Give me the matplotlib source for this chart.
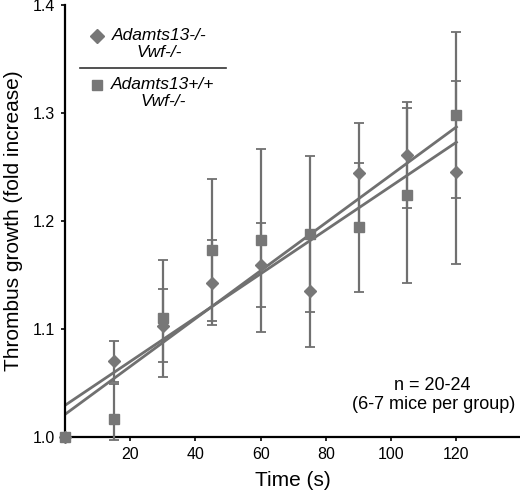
import numpy as np
import matplotlib
matplotlib.use("Agg")
import matplotlib.pyplot as plt
from matplotlib.lines import Line2D

plt.rcParams['font.family'] = ['Liberation Sans', 'DejaVu Sans']

# time points (s)
time_s = [0, 15, 30, 45, 60, 75, 90, 105, 120]

# Adamts13-/- Vwf-/-  (diamonds)
ko_mean = [1.000, 1.070, 1.103, 1.143, 1.159, 1.135, 1.244, 1.261, 1.245]
ko_err = [0.0, 0.019, 0.034, 0.039, 0.039, 0.052, 0.047, 0.049, 0.085]

# Adamts13+/+ Vwf-/-  (squares)
wt_mean = [1.000, 1.017, 1.110, 1.173, 1.182, 1.188, 1.194, 1.224, 1.298]
wt_err_lo = [0.0, 0.020, 0.054, 0.066, 0.085, 0.072, 0.060, 0.081, 0.077]
wt_err_hi = [0.0, 0.032, 0.054, 0.066, 0.085, 0.072, 0.060, 0.081, 0.077]

x_ticks = [20, 40, 60, 80, 100, 120]
y_ticks = [1.0, 1.1, 1.2, 1.3, 1.4]

gray = '#707070'
mgray = '#777777'

fig = plt.figure(figsize=(5.2, 4.93), dpi=100)
ax = fig.add_axes([0.125, 0.1136, 0.875, 0.8763])

t = np.array(time_s, dtype=float)

# regression lines
for mean in (ko_mean, wt_mean):
    k, b = np.polyfit(t, mean, 1)
    ax.plot([0, 120], [b, b + k * 120], color=gray, lw=2, zorder=2)

ax.errorbar(t, wt_mean, yerr=[wt_err_lo, wt_err_hi], fmt='s', color=mgray,
            ms=6.5, ecolor=gray, elinewidth=1.6, capsize=3.5, capthick=1.3,
            clip_on=False, zorder=3)
ax.errorbar(t, ko_mean, yerr=ko_err, fmt='D', color=mgray,
            ms=6, ecolor=gray, elinewidth=1.6, capsize=3.5, capthick=1.3,
            clip_on=False, zorder=3)

ax.set_xlim(0, 139.5)
ax.set_ylim(1.0, 1.4)
ax.set_xticks(x_ticks)
ax.set_yticks(y_ticks)
ax.set_yticklabels([f'{v:.1f}' for v in y_ticks])
ax.tick_params(labelsize=11.5, length=3, width=1.2, direction='out', pad=4)
for s in ('top', 'right'):
    ax.spines[s].set_visible(False)
for s in ('left', 'bottom'):
    ax.spines[s].set_linewidth(1.6)
    ax.spines[s].set_color('black')

ax.set_xlabel('Time (s)', fontsize=15, labelpad=7)
ax.set_ylabel('Thrombus growth (fold increase)', fontsize=15, labelpad=7)

# legend drawn by hand (with separator line)
ax.add_line(Line2D([0.07], [0.928], marker='D', ms=7.5, color=mgray,
                   transform=ax.transAxes, clip_on=False))
ax.add_line(Line2D([0.07], [0.815], marker='s', ms=7.5, color=mgray,
                   transform=ax.transAxes, clip_on=False))
ax.add_line(Line2D([0.033, 0.353], [0.854, 0.854], color='#333333', lw=1.2,
                   transform=ax.transAxes))
ax.text(0.207, 0.91, 'Adamts13-/-\nVwf-/-', transform=ax.transAxes,
        fontsize=12.5, style='italic', ha='center', va='center', linespacing=1.12)
ax.text(0.215, 0.796, 'Adamts13+/+\nVwf-/-', transform=ax.transAxes,
        fontsize=12.5, style='italic', ha='center', va='center', linespacing=1.12)

ax.text(0.807, 0.12, 'n = 20-24', transform=ax.transAxes,
        fontsize=13, ha='center', va='center')
ax.text(0.99, 0.076, '(6-7 mice per group)', transform=ax.transAxes,
        fontsize=13, ha='right', va='center')

fig.savefig('out.png', dpi=100)
